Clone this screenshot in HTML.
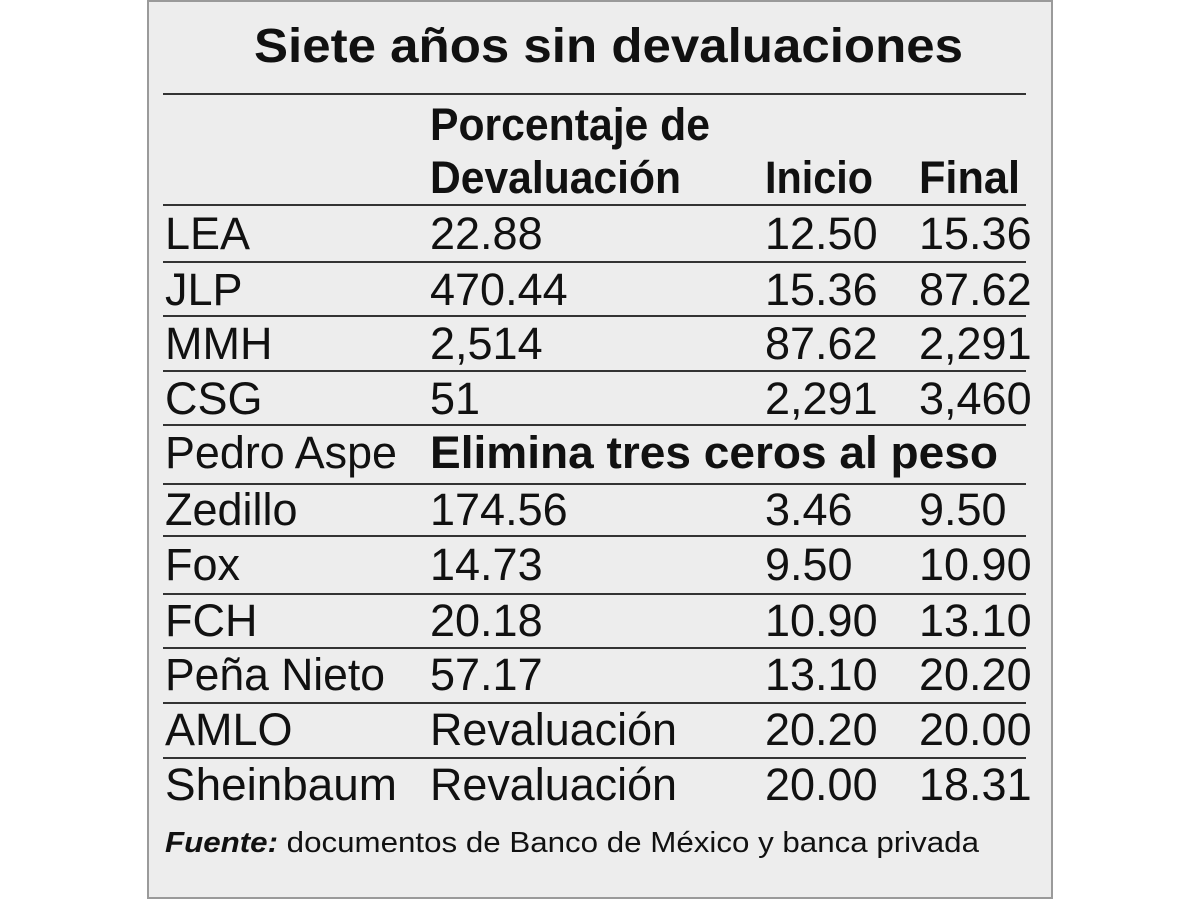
<!DOCTYPE html>
<html><head><meta charset="utf-8"><style>
html,body{margin:0;padding:0;background:#fff;}
svg{display:block;}
text{font-family:"Liberation Sans",sans-serif;fill:#111;}
.r{font-size:45px;}
.b{font-size:45px;font-weight:bold;}
</style></head><body>
<svg width="1200" height="900" viewBox="0 0 1200 900">
<rect x="148" y="1" width="904" height="897" fill="#ededed" stroke="#9a9a9a" stroke-width="2"/>
<text x="254" y="62" font-size="48" font-weight="bold" textLength="709" lengthAdjust="spacingAndGlyphs">Siete años sin devaluaciones</text>
<g stroke="#333" stroke-width="2">
<line x1="163" x2="1026" y1="94" y2="94"/>
<line x1="163" x2="1026" y1="205" y2="205"/>
<line x1="163" x2="1026" y1="262" y2="262"/>
<line x1="163" x2="1026" y1="316" y2="316"/>
<line x1="163" x2="1026" y1="371" y2="371"/>
<line x1="163" x2="1026" y1="425" y2="425"/>
<line x1="163" x2="1026" y1="484" y2="484"/>
<line x1="163" x2="1026" y1="536" y2="536"/>
<line x1="163" x2="1026" y1="594" y2="594"/>
<line x1="163" x2="1026" y1="648" y2="648"/>
<line x1="163" x2="1026" y1="703" y2="703"/>
<line x1="163" x2="1026" y1="758" y2="758"/>
</g>
<text class="b" x="430" y="140" textLength="280" lengthAdjust="spacingAndGlyphs">Porcentaje de</text>
<text class="b" x="430" y="193" textLength="251" lengthAdjust="spacingAndGlyphs">Devaluación</text>
<text class="b" x="765" y="193" textLength="108" lengthAdjust="spacingAndGlyphs">Inicio</text>
<text class="b" x="919" y="193" textLength="101" lengthAdjust="spacingAndGlyphs">Final</text>

<g class="r">
<text class="r" x="165" y="249">LEA</text><text class="r" x="430" y="249">22.88</text><text class="r" x="765" y="249">12.50</text><text class="r" x="919" y="249">15.36</text>
<text class="r" x="165" y="305">JLP</text><text class="r" x="430" y="305">470.44</text><text class="r" x="765" y="305">15.36</text><text class="r" x="919" y="305">87.62</text>
<text class="r" x="165" y="359">MMH</text><text class="r" x="430" y="359">2,514</text><text class="r" x="765" y="359">87.62</text><text class="r" x="919" y="359">2,291</text>
<text class="r" x="165" y="414">CSG</text><text class="r" x="430" y="414">51</text><text class="r" x="765" y="414">2,291</text><text class="r" x="919" y="414">3,460</text>
<text class="r" x="165" y="468" textLength="232" lengthAdjust="spacingAndGlyphs">Pedro Aspe</text>
<text class="b" x="430" y="468" textLength="568" lengthAdjust="spacingAndGlyphs">Elimina tres ceros al peso</text>
<text class="r" x="165" y="525">Zedillo</text><text class="r" x="430" y="525">174.56</text><text class="r" x="765" y="525">3.46</text><text class="r" x="919" y="525">9.50</text>
<text class="r" x="165" y="580">Fox</text><text class="r" x="430" y="580">14.73</text><text class="r" x="765" y="580">9.50</text><text class="r" x="919" y="580">10.90</text>
<text class="r" x="165" y="636">FCH</text><text class="r" x="430" y="636">20.18</text><text class="r" x="765" y="636">10.90</text><text class="r" x="919" y="636">13.10</text>
<text class="r" x="165" y="690" textLength="220" lengthAdjust="spacingAndGlyphs">Peña Nieto</text><text class="r" x="430" y="690">57.17</text><text class="r" x="765" y="690">13.10</text><text class="r" x="919" y="690">20.20</text>
<text class="r" x="165" y="745">AMLO</text><text class="r" x="430" y="745" textLength="247" lengthAdjust="spacingAndGlyphs">Revaluación</text><text class="r" x="765" y="745">20.20</text><text class="r" x="919" y="745">20.00</text>
<text class="r" x="165" y="800" textLength="232" lengthAdjust="spacingAndGlyphs">Sheinbaum</text><text class="r" x="430" y="800" textLength="247" lengthAdjust="spacingAndGlyphs">Revaluación</text><text class="r" x="765" y="800">20.00</text><text class="r" x="919" y="800">18.31</text>
</g>
<text x="165" y="852" font-size="29" textLength="814" lengthAdjust="spacingAndGlyphs"><tspan font-weight="bold" font-style="italic">Fuente:</tspan> documentos de Banco de México y banca privada</text>
</svg>
</body></html>
